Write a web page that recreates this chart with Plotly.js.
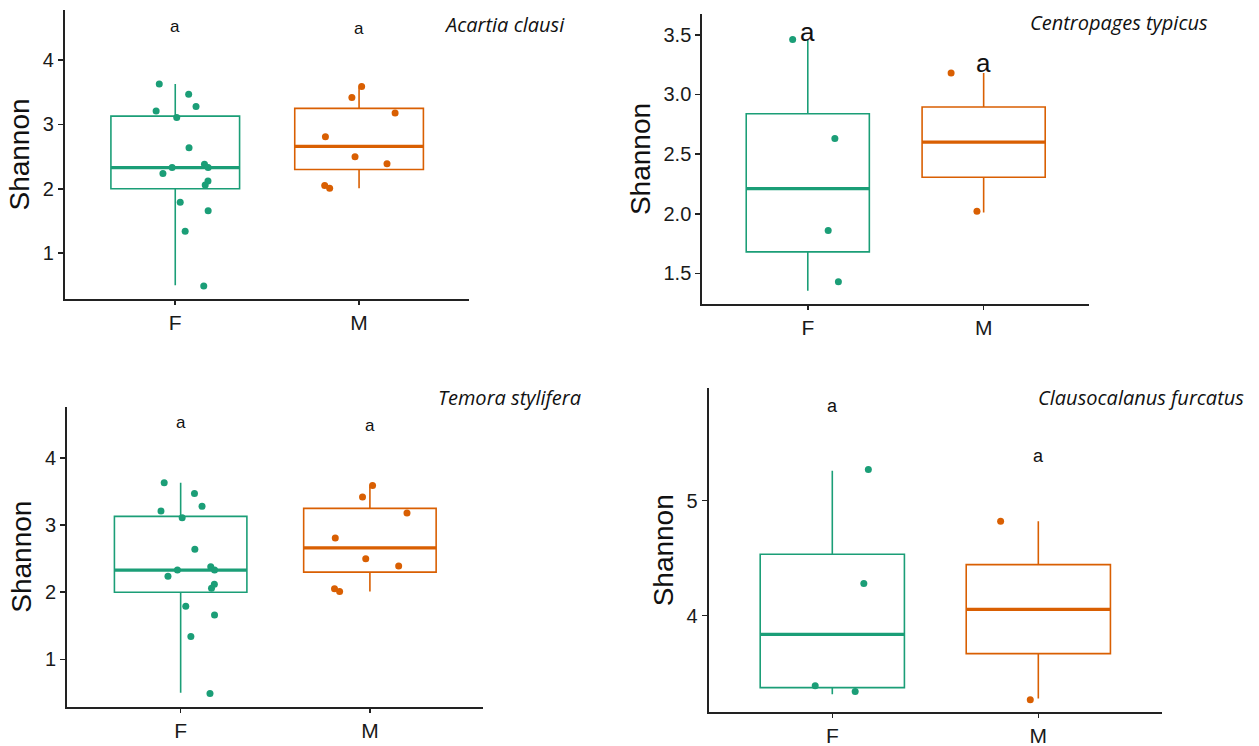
<!DOCTYPE html>
<html>
<head>
<meta charset="utf-8">
<script src="https://cdn.plot.ly/plotly-3.0.1.min.js"></script>
<style>html,body{margin:0;padding:0;background:#fff;}#chart{width:1259px;height:746px;}</style>
</head>
<body>
<div id="chart"></div>
<script>
// ---------- data ----------
const categories = ['F', 'M'];
const species = ['Acartia clausi', 'Centropages typicus', 'Temora stylifera', 'Clausocalanus furcatus'];

// box stats: [lower whisker, q1, median, q3, upper whisker]
// Acartia clausi
const acF_box = [0.50, 2.00, 2.33, 3.13, 3.63];
const acM_box = [2.01, 2.30, 2.66, 3.25, 3.58];
const acF_values = [3.63, 3.47, 3.28, 3.21, 3.11, 2.64, 2.38, 2.33, 2.33, 2.24, 2.12, 2.06, 1.79, 1.66, 1.34, 0.49];
const acF_jitter = [-0.087, 0.073, 0.113, -0.104, 0.008, 0.075, 0.159, -0.017, 0.179, -0.067, 0.178, 0.163, 0.027, 0.179, 0.054, 0.155];
const acM_values = [3.59, 3.42, 3.18, 2.81, 2.50, 2.39, 2.05, 2.01];
const acM_jitter = [0.014, -0.039, 0.196, -0.183, -0.022, 0.152, -0.187, -0.160];
const ac_letters = ['a', 'a'];
const ac_letterY = [4.53, 4.49];

// Centropages typicus
const ctF_box = [1.355, 1.68, 2.21, 2.838, 3.456];
const ctM_box = [2.01, 2.305, 2.60, 2.894, 3.18];
const ctF_values = [3.46, 2.63, 1.86, 1.43];
const ctF_jitter = [-0.086, 0.154, 0.116, 0.174];
const ctM_values = [3.18, 2.02];
const ctM_jitter = [-0.185, -0.038];
const ct_letters = ['a', 'a'];
const ct_letterY = [3.525, 3.26];

// Temora stylifera
const tsF_box = [0.50, 2.00, 2.33, 3.13, 3.63];
const tsM_box = [2.01, 2.30, 2.66, 3.25, 3.58];
const tsF_values = [3.63, 3.47, 3.28, 3.21, 3.11, 2.64, 2.38, 2.33, 2.33, 2.24, 2.12, 2.06, 1.79, 1.66, 1.34, 0.49];
const tsF_jitter = [-0.087, 0.073, 0.113, -0.104, 0.008, 0.075, 0.159, -0.017, 0.179, -0.067, 0.178, 0.163, 0.027, 0.179, 0.054, 0.155];
const tsM_values = [3.59, 3.42, 3.18, 2.81, 2.50, 2.39, 2.05, 2.01];
const tsM_jitter = [0.014, -0.039, 0.196, -0.183, -0.022, 0.152, -0.187, -0.160];
const ts_letters = ['a', 'a'];
const ts_letterY = [4.53, 4.49];

// Clausocalanus furcatus
const cfF_box = [3.316, 3.374, 3.838, 4.534, 5.26];
const cfM_box = [3.28, 3.67, 4.055, 4.444, 4.82];
const cfF_values = [5.27, 4.28, 3.39, 3.34];
const cfF_jitter = [0.175, 0.153, -0.083, 0.111];
const cfM_values = [4.82, 3.27];
const cfM_jitter = [-0.183, -0.039];
const cf_letters = ['a', 'a'];
const cf_letterY = [5.82, 5.39];

// y ticks per panel
const ac_ticks = [1, 2, 3, 4];
const ct_ticks = [1.5, 2.0, 2.5, 3.0, 3.5];
const ts_ticks = [1, 2, 3, 4];
const cf_ticks = [4, 5];

// ---------- styling ----------
const colF = '#1b9e77';
const colM = '#d95f02';
const BOXW = 0.7;
const TXT = '#1a1a1a';
const AXC = '#222222';
const SANS = 'Liberation Sans, Arial, sans-serif';
const ITAL = 'Open Sans, sans-serif';

const panels = [
  {name: species[0], F: [acF_box, acF_values, acF_jitter], M: [acM_box, acM_values, acM_jitter],
   letters: ac_letters, letterY: ac_letterY, letterSize: 17, ticks: ac_ticks, fmt: '',
   range: [0.287, 4.78], xd: [0.0516, 0.3728], yd: [0.5992, 0.9866],
   title: {x: 0.4505, y: 0.9665}},
  {name: species[1], F: [ctF_box, ctF_values, ctF_jitter], M: [ctM_box, ctM_values, ctM_jitter],
   letters: ct_letters, letterY: ct_letterY, letterSize: 26, ticks: ct_ticks, fmt: '.1f',
   range: [1.243, 3.674], xd: [0.5578, 0.8651], yd: [0.5925, 0.9812],
   title: {x: 0.961, y: 0.9692}},
  {name: species[2], F: [tsF_box, tsF_values, tsF_jitter], M: [tsM_box, tsM_values, tsM_jitter],
   letters: ts_letters, letterY: ts_letterY, letterSize: 17, ticks: ts_ticks, fmt: '',
   range: [0.294, 4.765], xd: [0.0533, 0.3840], yd: [0.0527, 0.4548],
   title: {x: 0.4628, y: 0.4678}},
  {name: species[3], F: [cfF_box, cfF_values, cfF_jitter], M: [cfM_box, cfM_values, cfM_jitter],
   letters: cf_letters, letterY: cf_letterY, letterSize: 18, ticks: cf_ticks, fmt: '',
   range: [3.16, 5.977], xd: [0.5629, 0.9229], yd: [0.0452, 0.4795],
   title: {x: 0.9895, y: 0.4678}}
];

const traces = [];
const layout = {
  width: 1259, height: 746,
  margin: {l: 0, r: 0, t: 0, b: 0},
  paper_bgcolor: '#ffffff', plot_bgcolor: '#ffffff',
  showlegend: false,
  font: {family: SANS, color: TXT},
  annotations: []
};

panels.forEach((p, i) => {
  const n = i === 0 ? '' : String(i + 1);
  const xa = 'x' + n, ya = 'y' + n;
  [['F', colF, 1], ['M', colM, 2]].forEach(([g, col, pos]) => {
    const [bx, vals, jit] = p[g];
    traces.push({
      type: 'box', xaxis: xa, yaxis: ya,
      x: [pos], lowerfence: [bx[0]], q1: [bx[1]], median: [bx[2]], q3: [bx[3]], upperfence: [bx[4]],
      width: BOXW, whiskerwidth: 0, boxpoints: false,
      line: {color: col, width: 1.6}, fillcolor: 'rgba(255,255,255,0)',
      hoverinfo: 'skip', name: g
    });
    traces.push({
      type: 'scatter', mode: 'lines', xaxis: xa, yaxis: ya,
      x: [pos - BOXW / 2, pos + BOXW / 2], y: [bx[2], bx[2]],
      line: {color: col, width: 3.2}, hoverinfo: 'skip'
    });
    traces.push({
      type: 'scatter', mode: 'markers', xaxis: xa, yaxis: ya,
      x: jit.map(j => pos + j), y: vals,
      marker: {color: col, size: 7, line: {width: 0}}, hoverinfo: 'skip'
    });
  });
  p.letters.forEach((t, k) => {
    layout.annotations.push({
      xref: xa, yref: ya, x: k + 1, y: p.letterY[k], text: t, showarrow: false,
      xanchor: 'center', yanchor: 'middle', font: {family: SANS, size: p.letterSize, color: '#111'}
    });
  });
  layout.annotations.push({
    xref: 'paper', yref: 'paper', x: p.title.x, y: p.title.y, text: '<i>' + p.name + '</i>',
    showarrow: false, xanchor: 'right', yanchor: 'middle',
    font: {family: ITAL, size: 20, color: '#111', style: 'italic'}
  });
  layout['xaxis' + n] = {
    domain: p.xd, anchor: ya, range: [0.4, 2.6], tickvals: [1, 2], ticktext: categories,
    showline: true, linecolor: AXC, linewidth: 2, ticks: 'outside', ticklen: 4, tickwidth: 1.6,
    tickcolor: AXC, tickfont: {family: SANS, size: 21, color: TXT},
    showgrid: false, zeroline: false, fixedrange: true
  };
  layout['yaxis' + n] = {
    domain: p.yd, anchor: xa, range: p.range, tickvals: p.ticks, tickformat: p.fmt,
    showline: true, linecolor: AXC, linewidth: 2, ticks: 'outside', ticklen: 5, tickwidth: 1.6,
    tickcolor: AXC, tickfont: {family: SANS, size: 20, color: TXT},
    showgrid: false, zeroline: false, fixedrange: true,
    title: {text: 'Shannon', font: {family: SANS, size: 28, color: '#111'}, standoff: 5}
  };
});

Plotly.newPlot('chart', traces, layout, {staticPlot: true, displayModeBar: false});
</script>
</body>
</html>
